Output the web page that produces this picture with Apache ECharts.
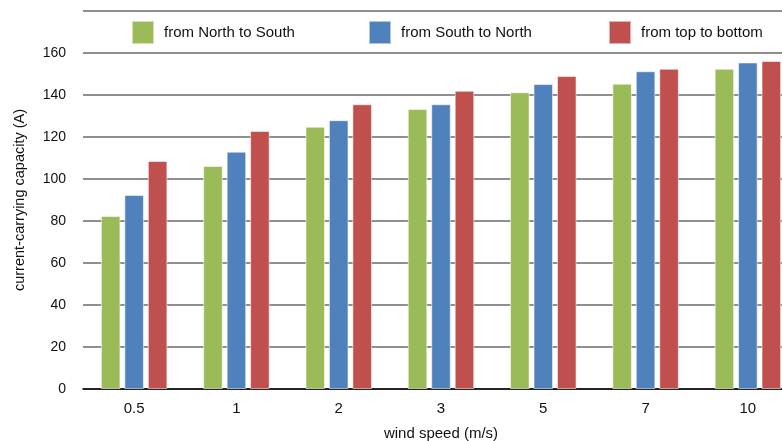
<!DOCTYPE html>
<html>
<head>
<meta charset="utf-8">
<script src="https://cdn.jsdelivr.net/npm/echarts@6/dist/echarts.min.js"></script>
<style>
  html, body { margin: 0; padding: 0; background: #fff; }
  #chart { width: 782px; height: 441px; }
</style>
</head>
<body>
<div id="chart"></div>
<script>
// Wind speed categories (m/s)
const windSpeeds = ['0.5', '1', '2', '3', '5', '7', '10'];

// Current-carrying capacity (A) per wind direction
const northToSouth = [82.4, 106.2, 124.9, 133.3, 141.3, 145.4, 152.5];
const southToNorth = [92.4, 113.0, 128.0, 135.6, 145.2, 151.3, 155.5];
const topToBottom  = [108.6, 122.9, 135.6, 142.0, 149.0, 152.5, 156.2];

const seriesNames = ['from North to South', 'from South to North', 'from top to bottom'];
const seriesColors = ['#9BBB59', '#4F81BD', '#C0504D'];
const legendLefts = [131, 368, 608];

const chart = echarts.init(document.getElementById('chart'), null, { renderer: 'canvas' });

const font = '"Liberation Sans", Arial, sans-serif';

function barSeries(name, data, color) {
  return {
    name: name,
    type: 'bar',
    data: data,
    barGap: '20%',
    barCategoryGap: '35%',
    itemStyle: { color: color, borderColor: 'rgba(255,255,255,0.55)', borderWidth: 1 }
  };
}

// one legend block per series so each entry sits at its own offset
const legends = seriesNames.map(function (n, i) {
  return {
    top: 20,
    left: legendLefts[i],
    padding: 0,
    itemWidth: 22,
    itemHeight: 23,
    icon: 'rect',
    textStyle: { fontSize: 15, color: '#111', fontFamily: font, padding: [0, 0, 0, 5] },
    data: [n]
  };
});

chart.setOption({
  animation: false,
  textStyle: { fontFamily: font },
  legend: legends,
  grid: { left: 83, width: 716, top: 11, bottom: 52, outerBoundsMode: 'none', containLabel: false },
  xAxis: {
    type: 'category',
    data: windSpeeds,
    name: 'wind speed (m/s)',
    nameLocation: 'middle',
    nameGap: 37,
    nameTextStyle: { fontSize: 15, color: '#111', fontFamily: font },
    axisLine: { lineStyle: { color: '#000', width: 1.5 } },
    axisTick: { show: false },
    axisLabel: { fontSize: 15, color: '#111', margin: 12, fontFamily: font }
  },
  yAxis: {
    type: 'value',
    min: 0,
    max: 180,
    interval: 20,
    name: 'current-carrying capacity (A)',
    nameLocation: 'middle',
    nameGap: 56,
    nameTextStyle: { fontSize: 14.5, color: '#111', fontFamily: font },
    axisLine: { show: false },
    axisTick: { show: false },
    axisLabel: {
      fontSize: 14, color: '#111', margin: 17, fontFamily: font,
      formatter: function (v) { return v === 180 ? '' : v; }
    },
    splitLine: { lineStyle: { color: '#6a6a6a', width: 1.5 } }
  },
  series: [
    barSeries(seriesNames[0], northToSouth, seriesColors[0]),
    barSeries(seriesNames[1], southToNorth, seriesColors[1]),
    barSeries(seriesNames[2], topToBottom, seriesColors[2])
  ]
});
</script>
</body>
</html>
